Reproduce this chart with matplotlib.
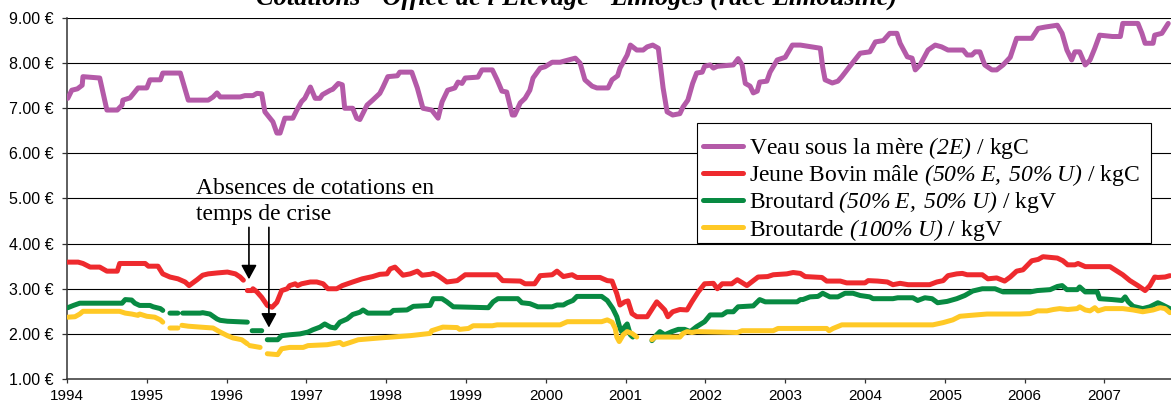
import numpy as np
import matplotlib
matplotlib.use('Agg')
import matplotlib.pyplot as plt
from matplotlib.patches import Rectangle

plt.rcParams['font.family'] = ['Liberation Sans', 'DejaVu Sans']
# math parts of the legend are the italic bits, so rm -> italic serif
plt.rcParams['mathtext.fontset'] = 'custom'
plt.rcParams['mathtext.rm'] = 'Liberation Serif:italic'
plt.rcParams['mathtext.it'] = 'Liberation Serif:italic'
plt.rcParams['mathtext.bf'] = 'Liberation Serif:bold'

nan = np.nan

# Veau sous la mere (2E) / kgC
veau_x = [1994.01, 1994.06, 1994.13, 1994.19, 1994.20, 1994.41, 1994.50, 1994.63, 1994.69, 1994.70,
          1994.79, 1994.89, 1995.00, 1995.04, 1995.17, 1995.20, 1995.42, 1995.52, 1995.77, 1995.83,
          1995.88, 1995.92, 1996.17, 1996.23, 1996.33, 1996.38, 1996.44, 1996.48, 1996.58, 1996.63,
          1996.67, 1996.73, 1996.83, 1996.88, 1996.94, 1996.98, 1997.05, 1997.11, 1997.17, 1997.20,
          1997.30, 1997.33, 1997.40, 1997.45, 1997.48, 1997.58, 1997.63, 1997.67, 1997.76, 1997.83,
          1997.92, 1997.96, 1998.02, 1998.14, 1998.17, 1998.32, 1998.39, 1998.46, 1998.57, 1998.65,
          1998.70, 1998.77, 1998.86, 1998.90, 1998.95, 1998.99, 1999.15, 1999.20, 1999.33, 1999.39,
          1999.45, 1999.51, 1999.58, 1999.61, 1999.68, 1999.74, 1999.80, 1999.84, 1999.93, 1999.99,
          2000.08, 2000.18, 2000.22, 2000.37, 2000.43, 2000.49, 2000.58, 2000.64, 2000.78, 2000.83,
          2000.90, 2000.93, 2001.02, 2001.06, 2001.14, 2001.22, 2001.27, 2001.34, 2001.41, 2001.47,
          2001.52, 2001.59, 2001.68, 2001.72, 2001.78, 2001.84, 2001.89, 2001.96, 2001.99, 2002.06,
          2002.10, 2002.15, 2002.35, 2002.41, 2002.46, 2002.50, 2002.56, 2002.60, 2002.65, 2002.68,
          2002.77, 2002.81, 2002.90, 2003.00, 2003.09, 2003.19, 2003.44, 2003.47, 2003.50, 2003.59,
          2003.66, 2003.71, 2003.81, 2003.94, 2004.06, 2004.13, 2004.23, 2004.31, 2004.40, 2004.44,
          2004.53, 2004.59, 2004.63, 2004.69, 2004.79, 2004.88, 2004.96, 2005.04, 2005.23, 2005.28,
          2005.34, 2005.38, 2005.44, 2005.50, 2005.59, 2005.65, 2005.73, 2005.82, 2005.90, 2006.09,
          2006.17, 2006.26, 2006.41, 2006.47, 2006.53, 2006.59, 2006.63, 2006.69, 2006.76, 2006.82,
          2006.88, 2006.94, 2007.10, 2007.20, 2007.23, 2007.42, 2007.47, 2007.51, 2007.61, 2007.63,
          2007.72, 2007.80]
veau_y = [7.22, 7.40, 7.43, 7.51, 7.70, 7.67, 6.96, 6.96, 7.07, 7.18,
          7.23, 7.45, 7.45, 7.63, 7.63, 7.78, 7.78, 7.18, 7.18, 7.25,
          7.34, 7.25, 7.25, 7.28, 7.28, 7.33, 7.32, 6.92, 6.70, 6.45,
          6.45, 6.78, 6.78, 6.96, 7.15, 7.22, 7.47, 7.22, 7.22, 7.30,
          7.40, 7.42, 7.55, 7.52, 7.00, 7.00, 6.78, 6.75, 7.07, 7.18,
          7.33, 7.47, 7.70, 7.72, 7.80, 7.80, 7.45, 7.00, 6.96, 6.78,
          7.14, 7.40, 7.45, 7.58, 7.55, 7.67, 7.69, 7.85, 7.85, 7.63,
          7.38, 7.36, 6.85, 6.85, 7.12, 7.22, 7.40, 7.67, 7.89, 7.92,
          8.02, 8.02, 8.04, 8.11, 8.00, 7.63, 7.49, 7.45, 7.45, 7.63,
          7.72, 7.89, 8.18, 8.40, 8.29, 8.29, 8.36, 8.40, 8.33, 7.45,
          6.92, 6.85, 6.88, 7.03, 7.18, 7.55, 7.78, 7.80, 7.93, 7.96,
          7.89, 7.93, 7.96, 8.10, 7.96, 7.55, 7.49, 7.34, 7.38, 7.58,
          7.60, 7.80, 8.07, 8.13, 8.40, 8.40, 8.33, 7.91, 7.63, 7.56,
          7.60, 7.70, 7.93, 8.22, 8.25, 8.47, 8.50, 8.66, 8.66, 8.44,
          8.14, 8.11, 7.85, 7.96, 8.29, 8.40, 8.36, 8.29, 8.29, 8.18,
          8.18, 8.25, 8.25, 7.96, 7.85, 7.85, 7.96, 8.13, 8.55, 8.55,
          8.77, 8.80, 8.84, 8.66, 8.29, 8.07, 8.25, 8.25, 7.96, 8.07,
          8.33, 8.62, 8.59, 8.59, 8.88, 8.88, 8.66, 8.44, 8.44, 8.62,
          8.66, 8.88]

# Jeune Bovin male (50% E, 50% U) / kgC
jb_x = [1994.01, 1994.14, 1994.20, 1994.29, 1994.41, 1994.50, 1994.63, 1994.66, 1994.98, 1995.02,
        1995.14, 1995.20, 1995.29, 1995.39, 1995.48, 1995.53, 1995.63, 1995.70, 1995.77, 1995.88,
        1996.01, 1996.11, 1996.17, 1996.21, 1996.235, 1996.26, 1996.32, 1996.33, 1996.38, 1996.44,
        1996.51, 1996.57, 1996.63, 1996.69, 1996.76, 1996.79, 1996.86, 1996.89, 1996.94, 1997.05,
        1997.13, 1997.21, 1997.27, 1997.38, 1997.45, 1997.58, 1997.70, 1997.83, 1997.92, 1998.01,
        1998.05, 1998.11, 1998.17, 1998.21, 1998.30, 1998.39, 1998.45, 1998.55, 1998.59, 1998.65,
        1998.76, 1998.89, 1998.99, 1999.39, 1999.46, 1999.68, 1999.74, 1999.86, 1999.93, 2000.08,
        2000.14, 2000.22, 2000.33, 2000.39, 2000.68, 2000.77, 2000.83, 2000.89, 2000.93, 2000.99,
        2001.03, 2001.08, 2001.14, 2001.27, 2001.31, 2001.39, 2001.43, 2001.49, 2001.53, 2001.59,
        2001.68, 2001.77, 2001.83, 2001.91, 2001.99, 2002.10, 2002.15, 2002.21, 2002.33, 2002.40,
        2002.52, 2002.60, 2002.66, 2002.78, 2002.85, 2003.02, 2003.10, 2003.19, 2003.25, 2003.35,
        2003.46, 2003.52, 2003.69, 2003.77, 2004.00, 2004.04, 2004.16, 2004.28, 2004.35, 2004.44,
        2004.54, 2004.81, 2004.90, 2004.98, 2005.04, 2005.15, 2005.22, 2005.28, 2005.47, 2005.54,
        2005.65, 2005.75, 2005.82, 2005.90, 2005.98, 2006.09, 2006.17, 2006.23, 2006.41, 2006.48,
        2006.54, 2006.63, 2006.67, 2006.76, 2007.07, 2007.16, 2007.23, 2007.32, 2007.42, 2007.51,
        2007.57, 2007.63, 2007.67, 2007.76, 2007.82]
jb_y = [3.59, 3.59, 3.56, 3.48, 3.48, 3.39, 3.39, 3.56, 3.56, 3.50,
        3.50, 3.33, 3.26, 3.22, 3.15, 3.07, 3.20, 3.30, 3.33, 3.35,
        3.37, 3.33, 3.26, 3.19, nan, 2.96, 2.96, 3.00, 2.93, 2.81,
        2.63, 2.59, 2.70, 2.96, 3.00, 3.07, 3.11, 3.07, 3.11, 3.15,
        3.15, 3.11, 3.00, 3.00, 3.07, 3.15, 3.22, 3.27, 3.32, 3.33,
        3.44, 3.48, 3.37, 3.30, 3.33, 3.39, 3.30, 3.32, 3.34, 3.29,
        3.15, 3.18, 3.31, 3.31, 3.18, 3.17, 3.11, 3.11, 3.29, 3.31,
        3.39, 3.27, 3.31, 3.25, 3.25, 3.18, 3.17, 2.89, 2.64, 2.71,
        2.73, 2.45, 2.38, 2.38, 2.49, 2.71, 2.64, 2.53, 2.38, 2.49,
        2.54, 2.53, 2.71, 2.93, 3.11, 3.12, 3.00, 3.11, 3.11, 3.20,
        3.07, 3.18, 3.26, 3.27, 3.31, 3.33, 3.36, 3.34, 3.27, 3.26,
        3.25, 3.17, 3.17, 3.13, 3.13, 3.18, 3.17, 3.15, 3.09, 3.12,
        3.09, 3.09, 3.15, 3.18, 3.29, 3.33, 3.34, 3.31, 3.31, 3.22,
        3.24, 3.17, 3.26, 3.39, 3.42, 3.62, 3.65, 3.71, 3.68, 3.62,
        3.53, 3.53, 3.56, 3.49, 3.49, 3.39, 3.31, 3.18, 3.07, 2.96,
        3.07, 3.26, 3.25, 3.26, 3.29]

# Broutard (50% E, 50% U) / kgV
btd_x = [1994.01, 1994.08, 1994.16, 1994.69, 1994.73, 1994.81, 1994.85, 1994.91, 1995.04, 1995.08,
         1995.17, 1995.20, 1995.25, 1995.29, 1995.39, 1995.42, 1995.45, 1995.67, 1995.70, 1995.79,
         1995.88, 1995.92, 1996.01, 1996.26, 1996.29, 1996.32, 1996.44, 1996.47, 1996.51, 1996.64,
         1996.69, 1996.79, 1996.92, 1997.02, 1997.08, 1997.17, 1997.23, 1997.30, 1997.36, 1997.42,
         1997.51, 1997.58, 1997.67, 1997.71, 1997.77, 1998.05, 1998.09, 1998.26, 1998.34, 1998.55,
         1998.59, 1998.70, 1998.76, 1998.84, 1999.28, 1999.34, 1999.40, 1999.65, 1999.70, 1999.80,
         1999.90, 2000.08, 2000.14, 2000.22, 2000.27, 2000.34, 2000.39, 2000.70, 2000.77, 2000.84,
         2000.89, 2000.93, 2000.95, 2000.99, 2001.02, 2001.06, 2001.09, 2001.20, 2001.33, 2001.39,
         2001.43, 2001.49, 2001.58, 2001.66, 2001.74, 2001.81, 2001.89, 2001.99, 2002.06, 2002.21,
         2002.27, 2002.35, 2002.41, 2002.60, 2002.68, 2002.75, 2003.15, 2003.19, 2003.22, 2003.31,
         2003.41, 2003.47, 2003.56, 2003.66, 2003.75, 2003.85, 2003.94, 2004.06, 2004.10, 2004.35,
         2004.41, 2004.60, 2004.66, 2004.75, 2004.84, 2004.91, 2005.03, 2005.15, 2005.25, 2005.35,
         2005.47, 2005.63, 2005.73, 2006.07, 2006.16, 2006.32, 2006.41, 2006.47, 2006.53, 2006.66,
         2006.69, 2006.76, 2006.91, 2006.94, 2007.10, 2007.22, 2007.26, 2007.30, 2007.36, 2007.48,
         2007.57, 2007.67, 2007.73, 2007.82]
btd_y = [2.58, 2.63, 2.68, 2.68, 2.76, 2.75, 2.68, 2.63, 2.63, 2.60,
         2.56, 2.52, nan, 2.46, 2.46, nan, 2.46, 2.46, 2.47, 2.44,
         2.33, 2.30, 2.28, 2.26, nan, 2.07, 2.07, nan, 1.87, 1.87,
         1.96, 1.98, 2.00, 2.04, 2.09, 2.15, 2.22, 2.15, 2.13, 2.26,
         2.33, 2.43, 2.48, 2.53, 2.46, 2.46, 2.52, 2.53, 2.61, 2.63,
         2.78, 2.78, 2.71, 2.60, 2.58, 2.71, 2.78, 2.78, 2.69, 2.67,
         2.60, 2.60, 2.64, 2.64, 2.69, 2.74, 2.83, 2.83, 2.74, 2.56,
         2.38, 2.12, 2.05, 2.16, 2.22, 1.98, 1.93, nan, 1.85, 1.98,
         2.05, 1.98, 2.05, 2.10, 2.10, 2.05, 2.16, 2.27, 2.42, 2.42,
         2.49, 2.49, 2.60, 2.62, 2.76, 2.71, 2.71, 2.76, 2.76, 2.82,
         2.83, 2.90, 2.82, 2.82, 2.90, 2.90, 2.85, 2.82, 2.78, 2.78,
         2.80, 2.80, 2.74, 2.80, 2.78, 2.69, 2.72, 2.78, 2.85, 2.95,
         3.00, 3.00, 2.93, 2.93, 2.96, 2.98, 3.05, 3.07, 2.98, 2.98,
         3.04, 2.93, 2.93, 2.78, 2.76, 2.74, 2.82, 2.71, 2.61, 2.56,
         2.60, 2.69, 2.64, 2.56]

# Broutarde (100% U) / kgV
bde_x = [1994.01, 1994.10, 1994.16, 1994.20, 1994.66, 1994.73, 1994.81, 1994.89, 1994.91, 1995.00,
         1995.10, 1995.17, 1995.20, 1995.25, 1995.29, 1995.39, 1995.41, 1995.44, 1995.52, 1995.67,
         1995.83, 1995.92, 1996.01, 1996.08, 1996.19, 1996.26, 1996.275, 1996.29, 1996.42, 1996.47,
         1996.51, 1996.64, 1996.69, 1996.79, 1996.96, 1997.02, 1997.26, 1997.42, 1997.46, 1997.55,
         1997.65, 1997.92, 1998.30, 1998.55, 1998.57, 1998.71, 1998.89, 1998.92, 1999.03, 1999.09,
         1999.33, 1999.39, 2000.18, 2000.27, 2000.70, 2000.77, 2000.83, 2000.87, 2000.89, 2000.92,
         2000.97, 2001.02, 2001.08, 2001.14, 2001.24, 2001.33, 2001.37, 2001.68, 2001.72, 2001.77,
         2001.83, 2001.89, 2002.40, 2002.46, 2002.85, 2002.91, 2003.52, 2003.55, 2003.60, 2003.71,
         2004.85, 2004.98, 2005.10, 2005.19, 2005.32, 2005.53, 2005.94, 2006.07, 2006.16, 2006.28,
         2006.36, 2006.44, 2006.54, 2006.66, 2006.69, 2006.76, 2006.82, 2006.88, 2006.92, 2007.01,
         2007.23, 2007.36, 2007.48, 2007.61, 2007.70, 2007.76, 2007.82]
bde_y = [2.37, 2.38, 2.44, 2.50, 2.50, 2.46, 2.44, 2.41, 2.44, 2.39,
         2.37, 2.31, 2.26, nan, 2.13, 2.13, nan, 2.19, 2.17, 2.15,
         2.13, 2.04, 1.96, 1.91, 1.87, 1.78, nan, 1.74, 1.70, nan,
         1.56, 1.54, 1.67, 1.70, 1.70, 1.74, 1.76, 1.81, 1.76, 1.81,
         1.87, 1.91, 1.96, 2.01, 2.07, 2.15, 2.14, 2.10, 2.12, 2.18,
         2.18, 2.20, 2.20, 2.27, 2.27, 2.31, 2.26, 2.12, 1.93, 1.83,
         1.98, 2.05, 2.01, 1.93, nan, 1.87, 1.93, 1.93, 2.01, 2.05,
         2.03, 2.05, 2.03, 2.07, 2.07, 2.12, 2.12, 2.07, 2.12, 2.20,
         2.20, 2.25, 2.31, 2.39, 2.41, 2.44, 2.44, 2.45, 2.51, 2.51,
         2.54, 2.56, 2.54, 2.56, 2.60, 2.53, 2.51, 2.58, 2.51, 2.56,
         2.56, 2.53, 2.49, 2.53, 2.58, 2.56, 2.47]

years = list(range(1994, 2008))
y_ticks = [1, 2, 3, 4, 5, 6, 7, 8, 9]

labels = [r"Veau sous la mère $\mathrm{(2E)}$ / kgC",
          r"Jeune Bovin mâle $\mathrm{(50\%\;E,\;50\%\;U)}$ / kgC",
          r"Broutard $\mathrm{(50\%\;E,\;50\%\;U)}$ / kgV",
          r"Broutarde $\mathrm{(100\%\;U)}$ / kgV"]
colors = ['#B45AA8', '#EE2A2E', '#088A42', '#FFC926']

fig = plt.figure(figsize=(11.71, 4.04), dpi=100)
ax = fig.add_axes([67/1171, 1-379/404, 1-67/1171, (379-18)/404])

lw = 3.6
series = [(veau_x, veau_y), (jb_x, jb_y), (btd_x, btd_y), (bde_x, bde_y)]
for (xs, ys), c, lab in zip(series, colors, labels):
    ax.plot(xs, ys, color=c, lw=lw, label=lab, solid_capstyle='round',
            solid_joinstyle='round', zorder=3)

ax.set_xlim(1994, 1994 + (1171-67)/79.8)
ax.set_ylim(1, 9)
ax.set_yticks(y_ticks)
ax.set_yticklabels([f"{v:.2f} €" for v in y_ticks])
ax.set_xticks(years)
ax.set_xticklabels([str(y) for y in years])
ax.tick_params(axis='y', length=3.6, width=0.9, pad=6, labelsize=11.5, color='#333333')
ax.tick_params(axis='x', length=3, width=0.9, pad=4.5, labelsize=11, color='#333333')
for y in y_ticks[1:]:
    ax.axhline(y, color='black', lw=0.8, zorder=1)
for s in ['top', 'right']:
    ax.spines[s].set_visible(False)
for s in ['left', 'bottom']:
    ax.spines[s].set_color('#333333')
    ax.spines[s].set_linewidth(1.1)

# legend frame (wider than the text, as in the source)
ax.add_patch(Rectangle(((697-67)/1104, (379-243)/361), (1151-697)/1104, (243-123)/361,
                       transform=ax.transAxes, facecolor='white', edgecolor='black',
                       lw=0.8, zorder=5))
leg = ax.legend(loc='upper left', bbox_to_anchor=((703-67)/1104, (379-135)/361),
                frameon=False, prop={'family': 'Liberation Serif', 'size': 17},
                handlelength=1.7, handletextpad=0.25, labelspacing=0.05,
                borderpad=0, borderaxespad=0)
leg.set_zorder(6)

# annotation
ax.text(1995.62, 4.52, "Absences de cotations en\ntemps de crise", family='Liberation Serif',
        fontsize=17, va='baseline', ha='left', linespacing=1.33, zorder=4)
for x0, y1 in [(1996.28, 3.21), (1996.53, 2.14)]:
    ax.annotate('', xy=(x0, y1), xytext=(x0, 4.36),
                arrowprops=dict(arrowstyle='-|>,head_length=0.86,head_width=0.47',
                                color='black', lw=1.2, shrinkA=0, shrinkB=0,
                                mutation_scale=10), zorder=4)

fig.text(577/1171, 1-5/404, "Cotations - Office de l'Elevage - Limoges (race Limousine)",
         family='Liberation Serif', fontsize=19, fontweight='bold', fontstyle='italic',
         ha='center', va='baseline')

fig.savefig('out.png', dpi=100)
